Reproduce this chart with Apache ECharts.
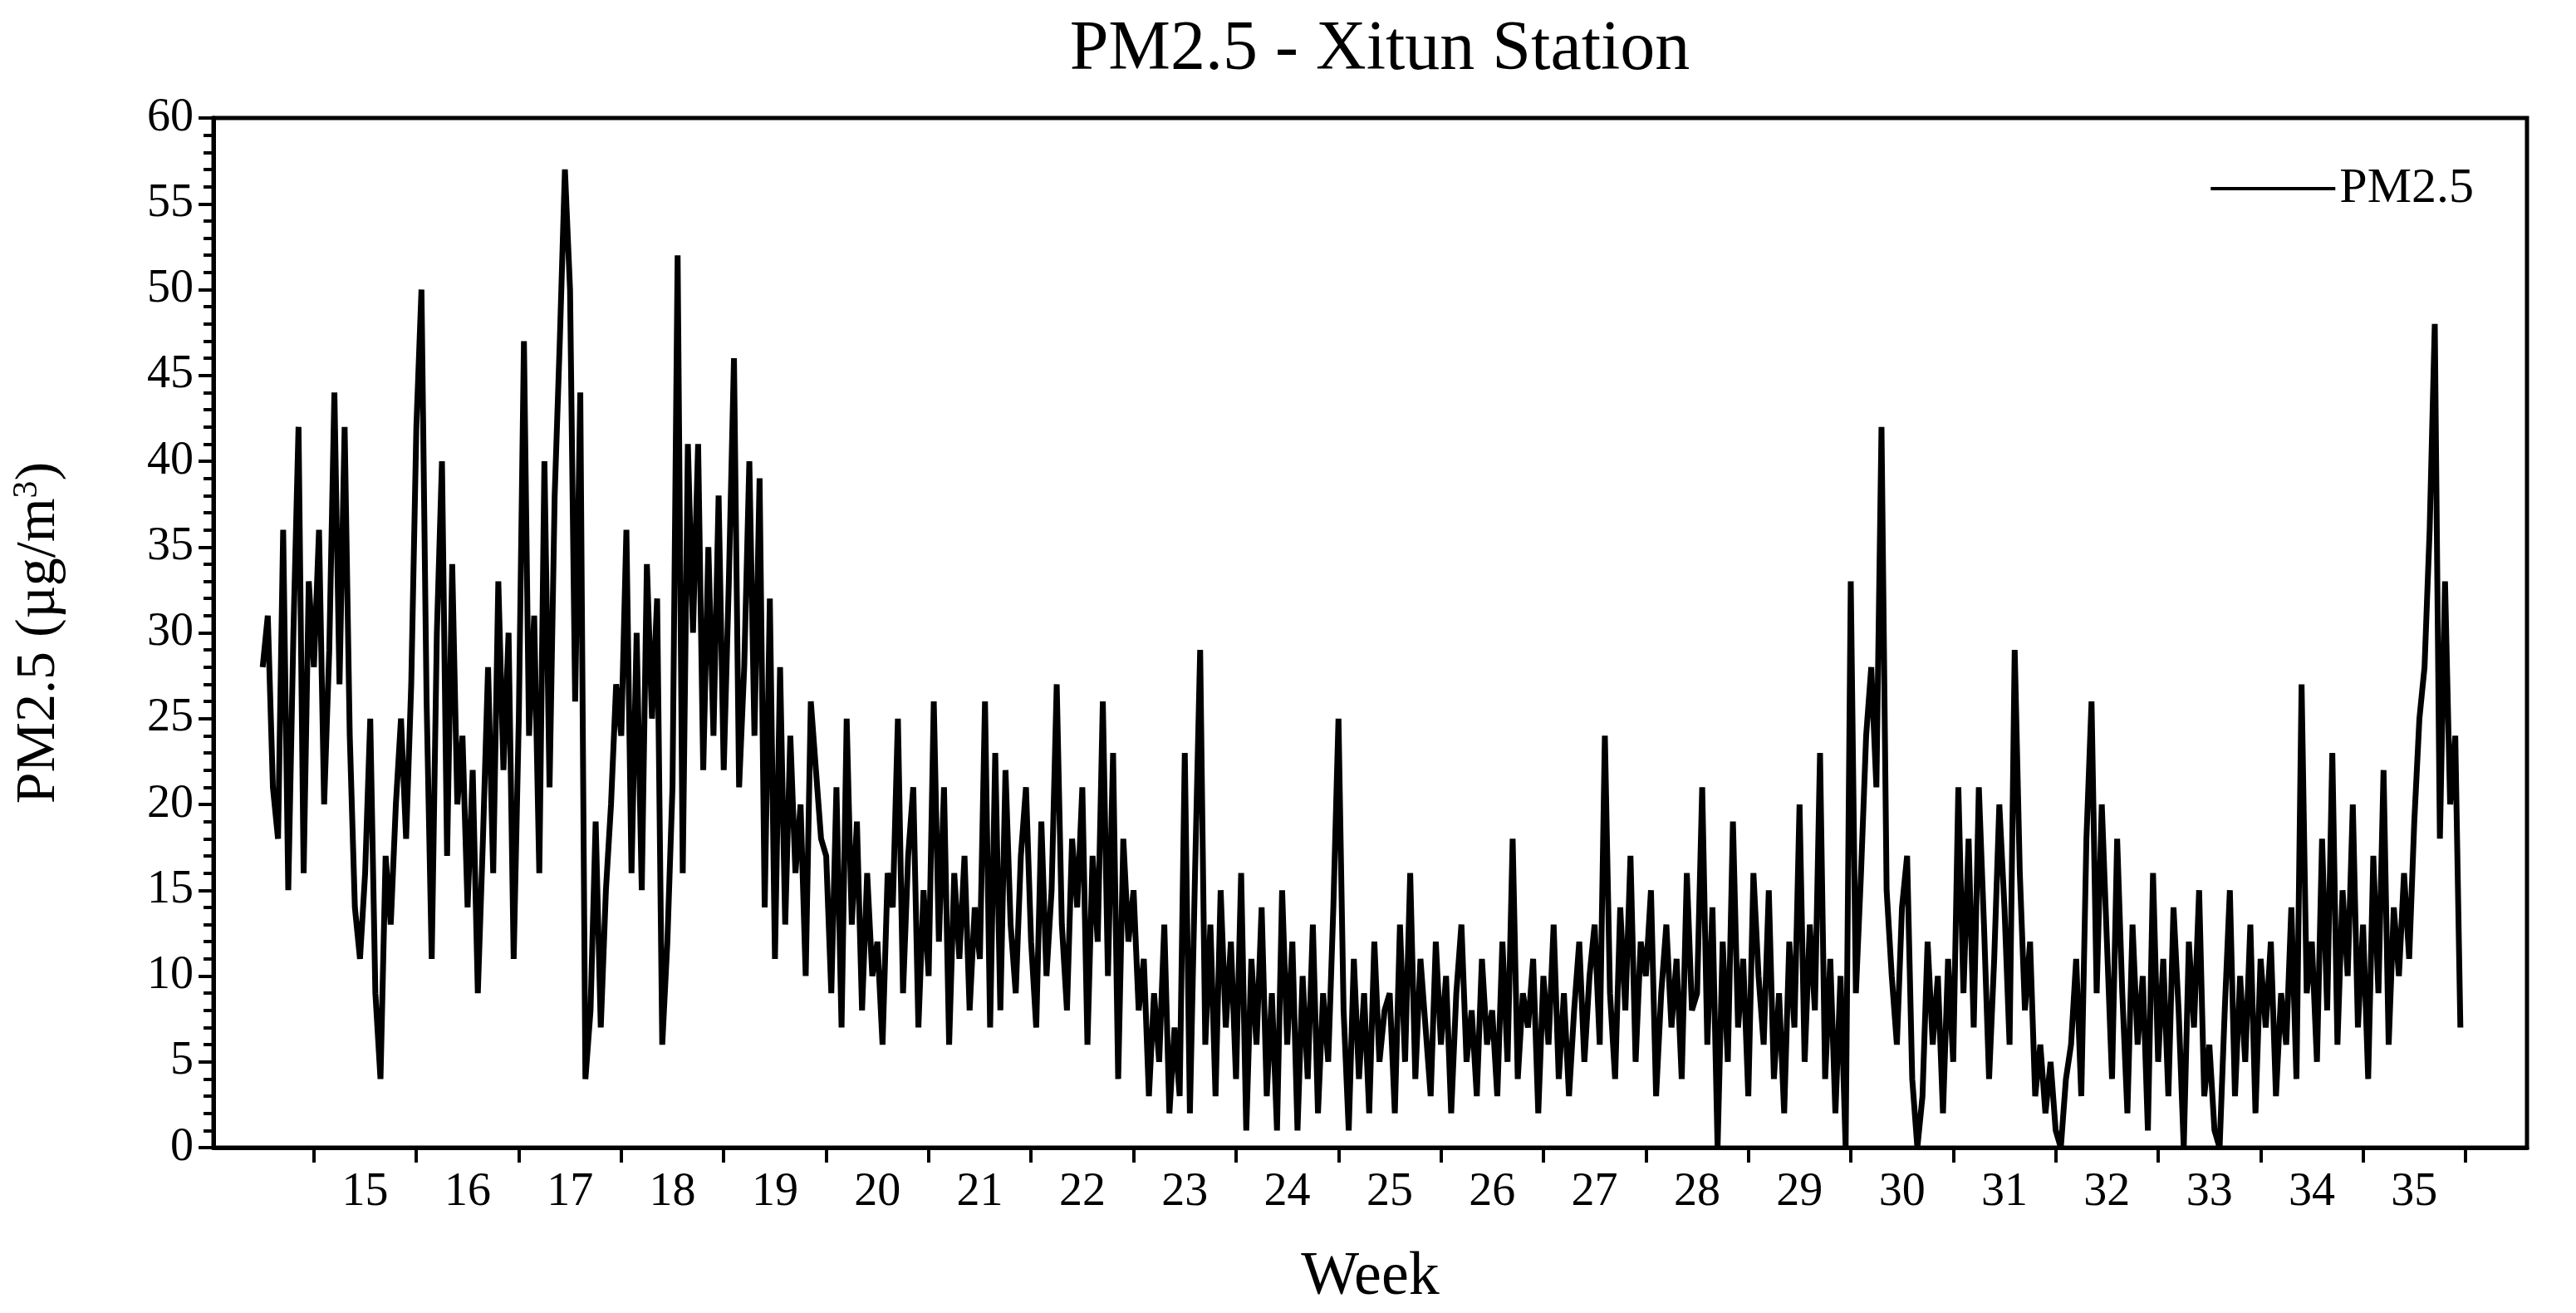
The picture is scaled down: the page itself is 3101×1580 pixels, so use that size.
<!DOCTYPE html>
<html><head><meta charset="utf-8">
<script src="https://cdn.jsdelivr.net/npm/echarts@6/dist/echarts.min.js"></script>
<style>html,body{margin:0;padding:0;background:#fff}#c{width:3101px;height:1580px}</style>
</head><body><div id="c"></div>
<script>
const startWeek = 14;
const pointsPerWeek = 20;
const w14 = [28,31,21,18,36,15,30,42,16,33,28,36,20,29,44,27,42,24,14,11];
const w15 = [16,25,9,4,17,13,20,25,18,27,42,50,26,11,30,40,17,34,20,24];
const w16 = [14,22,9,18,28,16,33,22,30,11,25,47,24,31,16,40,21,38,47,57];
const w17 = [50,26,44,4,8,19,7,15,20,27,24,36,16,30,15,34,25,32,6,12];
const w18 = [21,52,16,41,30,41,22,35,24,38,22,33,46,21,28,40,24,39,14,32];
const w19 = [11,28,13,24,16,20,10,26,22,18,17,9,21,7,25,13,19,8,16,10];
const w20 = [12,6,16,14,25,9,17,21,7,15,10,26,12,21,6,16,11,17,8,14];
const w21 = [11,26,7,23,8,22,13,9,17,21,12,7,19,10,15,27,13,8,18,14];
const w22 = [21,6,17,12,26,10,23,4,18,12,15,8,11,3,9,5,13,2,7,3];
const w23 = [23,2,16,29,6,13,3,15,7,12,4,16,1,11,6,14,3,9,1,15];
const w24 = [6,12,1,10,4,13,2,9,5,14,25,8,1,11,4,9,2,12,5,8];
const w25 = [9,2,13,5,16,4,11,7,3,12,6,10,2,9,13,5,8,3,11,6];
const w26 = [8,3,12,5,18,4,9,7,11,2,10,6,13,4,9,3,8,12,5,10];
const w27 = [13,6,24,9,4,14,8,17,5,12,10,15,3,9,13,7,11,4,16,8];
const w28 = [9,21,6,14,0,12,5,19,7,11,3,16,10,6,15,4,9,2,12,7];
const w29 = [20,5,13,8,23,4,11,2,10,0,33,9,16,24,28,21,42,15,10,6];
const w30 = [14,17,4,0,3,12,6,10,2,11,5,21,9,18,7,21,13,4,11,20];
const w31 = [14,6,29,16,8,12,3,6,2,5,1,0,4,6,11,3,18,26,9,20];
const w32 = [12,4,18,9,2,13,6,10,1,16,5,11,3,14,8,0,12,7,15,3];
const w33 = [6,1,0,8,15,3,10,5,13,2,11,7,12,3,9,6,14,4,27,9];
const w34 = [12,5,18,8,23,6,15,10,20,7,13,4,17,9,22,6,14,10,16,11];
const w35 = [19,25,28,36,48,18,33,20,24,7];
const pm25 = [].concat(w14,w15,w16,w17,w18,w19,w20,w21,w22,w23,w24,w25,w26,w27,w28,w29,w30,w31,w32,w33,w34,w35);
const weekLabels = [15,16,17,18,19,20,21,22,23,24,25,26,27,28,29,30,31,32,33,34,35];
const weekTicks = weekLabels.map(w => w - 0.5).concat([35.5]);

const data = pm25.map((v,i) => [startWeek + i/pointsPerWeek, v]);
const F = 'Liberation Serif';
const chart = echarts.init(document.getElementById('c'));
chart.setOption({
  animation:false,
  title:{text:'PM2.5 - Xitun Station',left:1656,textAlign:'center',top:14,textStyle:{fontFamily:F,fontSize:84,fontWeight:'normal',color:'#000'}},
  legend:{right:118,top:192,itemWidth:150,itemHeight:20,itemGap:8,textStyle:{fontFamily:F,fontSize:60,color:'#000'},data:['PM2.5'],icon:'path://M0,8 L150,8 L150,12 L0,12 Z'},
  grid:{left:257,right:59,top:142,bottom:192,show:true,borderColor:'#000',borderWidth:5},
  xAxis:{type:'value',min:13.52,max:36.1,name:'Week',nameLocation:'middle',nameGap:120,
    nameTextStyle:{fontFamily:F,fontSize:74,color:'#000'},
    axisLine:{lineStyle:{color:'#000',width:5}},
    axisTick:{customValues:weekTicks,length:18,lineStyle:{width:4,color:'#000'}},
    axisLabel:{customValues:weekLabels,fontFamily:F,fontSize:56,color:'#000',margin:26},
    splitLine:{show:false}},
  yAxis:{type:'value',min:0,max:60,interval:5,
    name:'{a|PM2.5 (µg/m}{s|3}{a|)}',nameLocation:'middle',nameGap:175,nameRotate:90,
    nameTextStyle:{rich:{a:{fontFamily:F,fontSize:68,color:'#000'},s:{fontFamily:F,fontSize:42,color:'#000',verticalAlign:'top',padding:[0,0,28,0]}}},
    axisLine:{show:true,lineStyle:{color:'#000',width:5}},
    axisTick:{length:18,lineStyle:{width:4,color:'#000'}},
    minorTick:{show:true,splitNumber:5,length:12,lineStyle:{width:4,color:'#000'}},
    axisLabel:{fontFamily:F,fontSize:56,color:'#000',margin:24},
    splitLine:{show:false}},
  series:[{name:'PM2.5',type:'line',data:data,symbol:'none',lineStyle:{color:'#000',width:7},itemStyle:{color:'#000'}}]
});
</script></body></html>
